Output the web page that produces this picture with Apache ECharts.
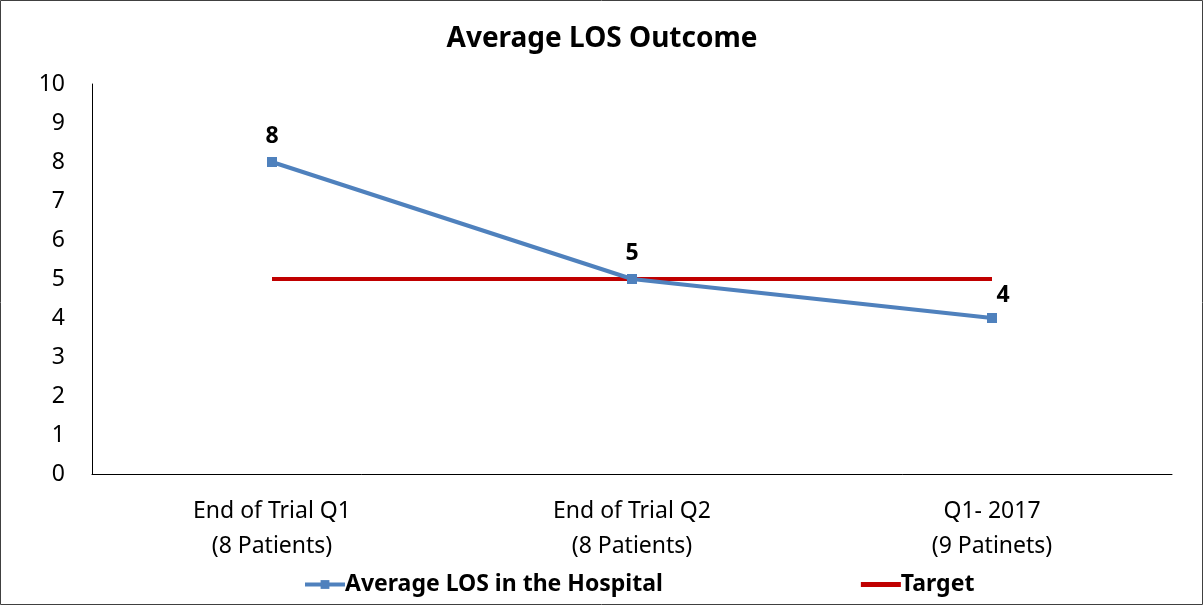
<!DOCTYPE html>
<html>
<head>
<meta charset="utf-8">
<script src="https://cdn.jsdelivr.net/npm/echarts@6/dist/echarts.min.js"></script>
<style>
  html, body { margin: 0; padding: 0; background: #fff; }
  #chart { width: 1204px; height: 607px; }
</style>
</head>
<body>
<div id="chart"></div>
<script>
// 数据
const categories = ['End of Trial Q1\n(8 Patients)', 'End of Trial Q2\n(8 Patients)', 'Q1- 2017\n(9 Patinets)']
const losValues = [8, 5, 4]
const targetValues = [5, 5, 5]
const yTicks = { min: 0, max: 10, interval: 1 }

const font = '"Noto Sans", "Open Sans", sans-serif'

let chart = echarts.init(document.getElementById('chart'))
chart.setOption({
  backgroundColor: '#fff',
  textStyle: { fontFamily: font },
  title: {
    text: 'Average LOS Outcome',
    left: 'center',
    top: 20,
    textStyle: { fontSize: 28, fontWeight: 'bold', color: '#000', fontFamily: font }
  },
  graphic: [{
    type: 'rect',
    shape: { x: 0.5, y: 0.5, width: 1202, height: 604 },
    style: { fill: 'none', stroke: '#404040', lineWidth: 1 },
    silent: true
  }],
  grid: { left: 92, right: 32, top: 84, bottom: 133 },
  legend: {
    bottom: 6,
    left: 298,
    itemGap: 198,
    itemWidth: 40,
    itemHeight: 11,
    lineStyle: { width: 4 },
    textStyle: { fontSize: 23, fontWeight: 'bold', color: '#000', fontFamily: font, padding: [0, 0, 0, -5] },
    data: [
      { name: 'Average LOS in the Hospital' },
      { name: 'Target', icon: 'path://M0,0 L31,0 L31,4 L0,4 Z' }
    ]
  },
  xAxis: {
    type: 'category',
    data: categories,
    boundaryGap: true,
    axisLine: { lineStyle: { color: '#000', width: 1 } },
    axisTick: { show: false },
    axisLabel: { fontSize: 23, color: '#000', lineHeight: 35, margin: 20, fontFamily: font }
  },
  yAxis: {
    type: 'value',
    min: yTicks.min,
    max: yTicks.max,
    interval: yTicks.interval,
    axisLine: { show: true, lineStyle: { color: '#000', width: 1 } },
    axisTick: { show: false },
    splitLine: { show: false },
    axisLabel: { fontSize: 23, color: '#000', margin: 27, fontFamily: font }
  },
  series: [
    {
      name: 'Average LOS in the Hospital',
      type: 'line',
      data: losValues.map((v, i) => i === losValues.length - 1
        ? { value: v, label: { offset: [11, 3] } }
        : v),
      symbol: 'rect',
      symbolSize: 10,
      lineStyle: { color: '#4F81BD', width: 4 },
      itemStyle: { color: '#4F81BD' },
      label: {
        show: true,
        position: 'top',
        distance: 9,
        fontSize: 23,
        fontWeight: 'bold',
        color: '#000',
        fontFamily: font
      },
      z: 3
    },
    {
      name: 'Target',
      type: 'line',
      data: targetValues,
      symbol: 'none',
      lineStyle: { color: '#C00000', width: 4 },
      itemStyle: { color: '#C00000' },
      z: 2
    }
  ]
})
window.addEventListener('resize', function () {
  chart.resize()
})
</script>
</body>
</html>
